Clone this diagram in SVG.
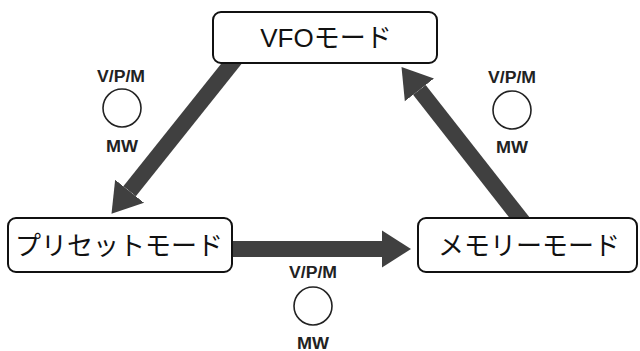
<svg xmlns="http://www.w3.org/2000/svg" width="640" height="351" viewBox="0 0 640 351">
<style>
.box{fill:#fff;stroke:#111;stroke-width:2}
.lbl{font-family:"Liberation Sans","Noto Sans CJK JP",sans-serif;font-size:26px;fill:#111;text-anchor:middle}
.sm{font-family:"Liberation Sans",Arial,sans-serif;font-size:16px;font-weight:bold;fill:#222;text-anchor:middle}
.ring{fill:none;stroke:#222;stroke-width:1.6}
.arw{stroke:#404040;stroke-width:16;fill:none;marker-end:url(#head)}
</style>
<defs>
<marker id="head" markerUnits="userSpaceOnUse" markerWidth="30" markerHeight="40" viewBox="0 -20 30 40" refX="0" refY="0" orient="auto">
<path d="M0,-18.5 L29,0 L0,18.5 Z" fill="#404040"/>
</marker>
</defs>
<rect width="640" height="351" fill="#fff"/>
<g id="connectors">
<line class="arw" x1="236" y1="58" x2="129.6" y2="191.2"/>
<line class="arw" x1="523" y1="222" x2="419.4" y2="89.9"/>
<line class="arw" x1="228" y1="249" x2="382" y2="249"/>
</g>
<g id="vfo">
<rect class="box" x="213" y="12" width="224" height="51" rx="8"/>
<text class="lbl" x="326" y="47">VFOモード</text>
</g>
<g id="preset">
<rect class="box" x="8" y="218" width="224" height="54" rx="8"/>
<text class="lbl" x="119" y="255">プリセットモード</text>
</g>
<g id="memory">
<rect class="box" x="418" y="218" width="219" height="54" rx="8"/>
<text class="lbl" x="529" y="255">メモリーモード</text>
</g>
<g id="sw-left">
<text class="sm" x="121" y="82" textLength="48" lengthAdjust="spacingAndGlyphs">V/P/M</text>
<circle class="ring" cx="122" cy="108" r="19"/>
<text class="sm" x="122" y="152" textLength="32" lengthAdjust="spacingAndGlyphs">MW</text>
</g>
<g id="sw-right">
<text class="sm" x="512" y="83" textLength="48" lengthAdjust="spacingAndGlyphs">V/P/M</text>
<circle class="ring" cx="512" cy="110" r="19"/>
<text class="sm" x="512" y="153" textLength="32" lengthAdjust="spacingAndGlyphs">MW</text>
</g>
<g id="sw-bottom">
<text class="sm" x="313" y="278" textLength="48" lengthAdjust="spacingAndGlyphs">V/P/M</text>
<circle class="ring" cx="313" cy="306" r="19"/>
<text class="sm" x="313" y="349" textLength="32" lengthAdjust="spacingAndGlyphs">MW</text>
</g>
</svg>
